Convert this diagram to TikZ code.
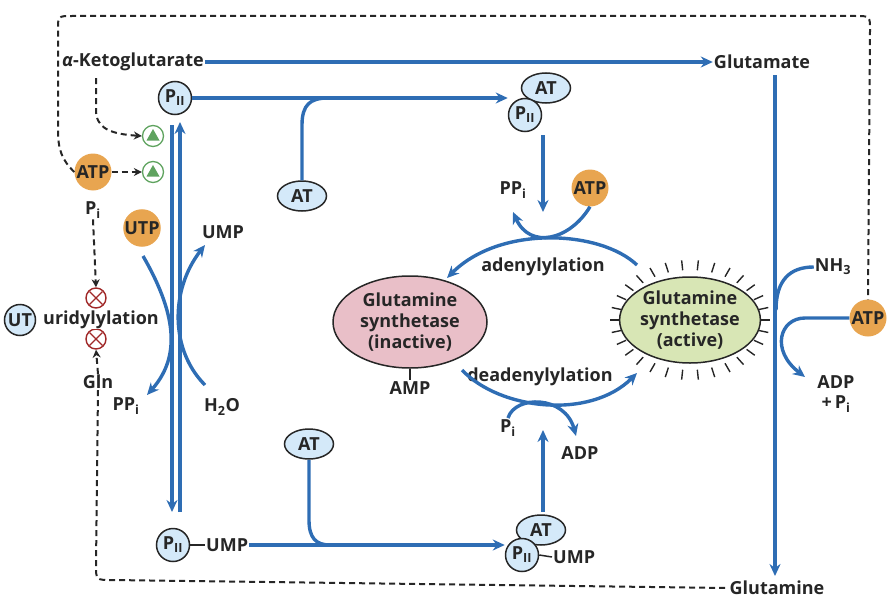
\documentclass[tikz,border=0pt]{standalone}
\usepackage{fontspec}
\setmainfont{Open Sans}
\usetikzlibrary{arrows.meta,shapes.geometric}
\definecolor{bl}{HTML}{2E6DB4}
\definecolor{og}{HTML}{E8A550}
\definecolor{lb}{HTML}{D4E9F9}
\definecolor{gr}{HTML}{5FA35F}
\definecolor{pk}{HTML}{E9BFC8}
\definecolor{lg}{HTML}{D8E6B5}
\definecolor{rd}{HTML}{A02828}
\begin{document}
\begin{tikzpicture}[x=1pt,y=-1pt,font=\fontsize{18}{20}\selectfont\bfseries,
  flow/.style={draw=bl,line width=3.4pt,-{Stealth[length=12pt,width=11pt]}},
  fl/.style={draw=bl,line width=3.4pt},
  dsh/.style={draw=black!85,line width=2pt,dash pattern=on 6pt off 4pt},
  dar/.style={dsh,-{Stealth[length=8pt,width=8pt]}},
  orc/.style={circle,fill=og,minimum size=37pt,inner sep=0pt},
  pii/.style={circle,draw=black!85,fill=lb,line width=1.5pt,minimum size=33pt,inner sep=0pt},
  atn/.style={ellipse,draw=black!85,fill=lb,line width=1.5pt,minimum width=49pt,minimum height=30pt,inner sep=0pt},
  lbl/.style={inner sep=1pt,text=black!85}]
\useasboundingbox (0,0) rectangle (896,602);
\tikzset{every node/.append style={text=black!85}}
% outer dashed loop
\node[orc] (atp1) at (93,172) {ATP};
\node[orc] (atp4) at (868,318) {ATP};
\draw[dsh] (atp1.west) .. controls (62,160) and (58,150) .. (58,130) -- (58,30) .. controls (58,16) .. (72,16) -- (855,16) .. controls (870,16) .. (870,30) -- (atp4.north);
% top line
\node[lbl] (akg) at (133,62) {{\itshape α}-Ketoglutarate};
\node[lbl] (glu) at (762,62) {Glutamate};
\draw[flow] (akg.east) -- (glu.west);
% triangles
\foreach \n/\y in {t1/136,t2/172}{
  \node[circle,draw=gr,line width=1.3pt,minimum size=21pt,inner sep=0pt] (\n) at (153,\y) {};
  \fill[gr] (153,\y-7) -- (159.5,\y+4.5) -- (146.5,\y+4.5) -- cycle;}
\draw[dar] (96,78) -- (96,110) .. controls (96,128) and (110,134) .. (t1.west);
\draw[dar] (atp1.east) -- (t2.west);
\node[lbl] (pi1) at (93,210) {P\textsubscript{i}};
\foreach \n/\y in {x1/298,x2/339}{
  \node[circle,draw=rd,line width=1.4pt,minimum size=20pt,inner sep=0pt] (\n) at (96,\y) {};
  \draw[rd,line width=1.4pt] (96-6.5,\y-6.5) -- (96+6.5,\y+6.5) (96-6.5,\y+6.5) -- (96+6.5,\y-6.5);}
\draw[dar] (pi1.south) -- (x1.north);
\node[circle,draw=black!85,fill=lb,line width=1.5pt,minimum size=31pt,inner sep=0pt] (ut) at (20,320) {UT};
\node[lbl,fill=white,inner sep=0pt] (uri) at (101,320) {uridylylation};
\node[lbl] (gln) at (98,382) {Gln};
\draw[dar] (gln.north) -- (x2.south);
\node[lbl] (glm) at (777,588) {Glutamine};
\draw[dsh] (gln.south) -- (96,565) .. controls (96,580) .. (112,580) -- (glm.west);
% PII top
\node[pii] (p1) at (175,98) {P\textsubscript{II}};
\node[atn] (at1) at (546,88) {AT};
\node[pii] (p2) at (525,115) {P\textsubscript{II}};
\draw[flow] (p1.east) -- (p2.west |- p1.east);
\node[atn] (at2) at (302,196) {AT};
\draw[fl] (at2.north) -- (302,125) .. controls (302,105) and (310,98) .. (328,98);
% double vertical
\node[pii] (p3) at (173,545) {P\textsubscript{II}};
\node[lbl,anchor=west] (ump1) at (205,545) {UMP};
\draw[line width=1.5pt,black!85] (p3.east) -- (ump1.west);
\draw[flow] (172,125) -- (172,512);
\draw[flow] (180,512) -- (180,122);
\node[orc] (utp) at (142,228) {UTP};
\node[lbl] (ppi1) at (126,406) {PP\textsubscript{i}};
\node[lbl] (ump2) at (223,232) {UMP};
\node[lbl] (h2o) at (222,407) {H\textsubscript{2}O};
\draw[flow] (143,256) .. controls (180,320) and (178,360) .. (147,395);
\draw[flow] (205,385) .. controls (170,350) and (170,290) .. (205,245);
% bottom
\node[atn] (at3) at (541,530) {AT};
\node[pii] (p4) at (522,555) {P\textsubscript{II}};
\node[lbl,anchor=west] (ump3) at (552,557) {UMP};
\draw[line width=1.5pt,black!85] (p4.east) -- (ump3.west);
\draw[flow] (ump1.east) -- (p4.west |- ump1.east);
\node[atn] (at4) at (309,444) {AT};
\draw[fl] (at4.south) -- (309,520) .. controls (309,538) and (316,545) .. (330,545);
% enzymes
\node[ellipse,draw=black!85,fill=pk,line width=1.5pt,minimum width=154pt,minimum height=92pt,align=center,inner sep=0pt,font=\fontsize{18}{21}\selectfont\bfseries] (gsi) at (410,322) {Glutamine\\synthetase\\(inactive)};
\node[ellipse,draw=black!85,fill=lg,line width=1.5pt,minimum width=126pt,minimum height=86pt,align=center,inner sep=0pt,font=\fontsize{18}{21}\selectfont\bfseries] (gsa) at (690,320) {Glutamine\\synthetase\\(active)};
\foreach \a in {0,12,...,348}{
  \draw[line width=1.4pt,black!85] ({690+70*cos(\a)},{320+50*sin(\a)}) -- ({690+80*cos(\a)},{320+60*sin(\a)});}
\node[lbl] (amp) at (410,388) {AMP};
\draw[line width=1.5pt,black!85] (gsi.south) -- (amp.north);
% adenylylation
\node[lbl] (ppi2) at (513,190) {PP\textsubscript{i}};
\node[orc] (atp2) at (590,188) {ATP};
\draw[flow] (637,265) .. controls (600,230) and (500,225) .. (447,278);
\node[lbl] (ade) at (543,267) {adenylylation};
\draw[flow] (543,135) -- (543,212);
\draw[flow] (atp2.south) .. controls (570,240) and (530,250) .. (513,212);
% deadenylylation
\node[lbl] (dea) at (540,377) {deadenylylation};
\draw[flow] (462,370) .. controls (500,410) and (590,420) .. (637,373);
\node[lbl] (pi2) at (508,428) {P\textsubscript{i}};
\node[lbl] (adp) at (580,453) {ADP};
\draw[flow] (508,418) .. controls (515,395) and (565,395) .. (576,436);
\draw[flow] (543,512) -- (543,430);
% glutamate to glutamine
\draw[flow] (775,75) -- (775,576);
\node[lbl] (nh3) at (833,267) {NH\textsubscript{3}};
\draw[fl] (nh3.west) .. controls (790,267) and (776,280) .. (776,310);
\node[lbl,align=center] (adp2) at (836,394) {ADP\\+\,P\textsubscript{i}};
\draw[flow] (atp4.west) -- (805,318) .. controls (780,318) and (770,350) .. (805,377);
\end{tikzpicture}
\end{document}
